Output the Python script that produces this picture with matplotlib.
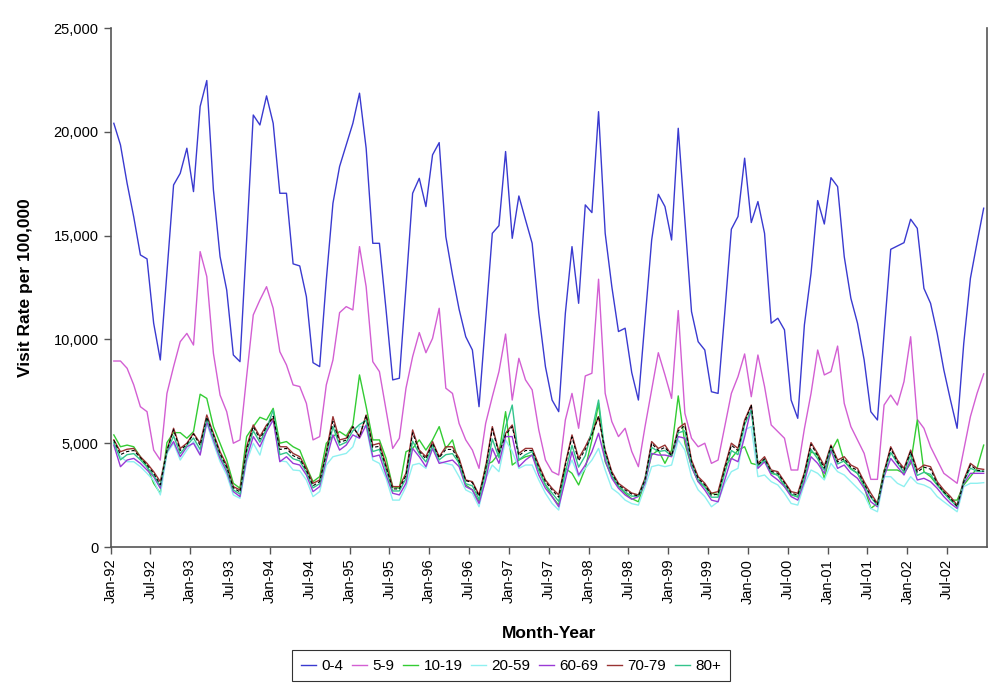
import matplotlib
matplotlib.use('Agg')
import matplotlib.pyplot as plt
from matplotlib.ticker import FuncFormatter

plt.rcParams['font.family'] = ['Liberation Sans', 'DejaVu Sans']

# month labels Jan-92 .. Dec-02
years = ['92', '93', '94', '95', '96', '97', '98', '99', '00', '01', '02']
months = ['Jan', 'Feb', 'Mar', 'Apr', 'May', 'Jun', 'Jul', 'Aug', 'Sep', 'Oct', 'Nov', 'Dec']
labels = [f'{m}-{y}' for y in years for m in months]

# visit rates per 100,000 by age group (one row per year)
age_0_4 = [
    20410, 19370, 17520, 15900, 14070, 13880, 10780, 9010, 13190, 17440, 18000, 19210,
    17120, 21220, 22470, 17200, 13990, 12380, 9250, 8930, 14790, 20810, 20330, 21730,
    20410, 17040, 17040, 13640, 13540, 12060, 8880, 8690, 12860, 16560, 18330, 19370,
    20410, 21860, 19210, 14630, 14630, 11420, 8050, 8130, 12540, 17040, 17760, 16400,
    18890, 19480, 14950, 13110, 11450, 10130, 9490, 6760, 10940, 15110, 15480, 19050,
    14870, 16910, 15760, 14630, 11260, 8690, 7080, 6520, 11260, 14470, 11740, 16480,
    16110, 20970, 15110, 12540, 10380, 10540, 8400, 7080, 10940, 14790, 16990, 16400,
    14790, 20170, 15760, 11340, 9890, 9490, 7480, 7400, 11260, 15310, 15920, 18730,
    15630, 16640, 15110, 10780, 11020, 10460, 7080, 6200, 10700, 13190, 16690, 15560,
    17790, 17360, 13990, 11980, 10780, 9010, 6520, 6120, 10290, 14340, 14500, 14660,
    15790, 15350, 12460, 11740, 10290, 8530, 7080, 5720, 9810, 12940, 14660, 16320,
]
age_5_9 = [
    8960, 8960, 8610, 7810, 6760, 6520, 4670, 4190, 7400, 8690, 9890, 10290,
    9730, 14230, 13030, 9330, 7320, 6520, 5000, 5160, 8210, 11180, 11900, 12540,
    11500, 9410, 8770, 7810, 7730, 6920, 5160, 5320, 7810, 9010, 11290, 11580,
    11420, 14470, 12540, 8930, 8450, 6600, 4750, 5240, 7650, 9170, 10330, 9360,
    10050, 11500, 7650, 7400, 5950, 5160, 4670, 3790, 5960, 7240, 8450, 10260,
    7080, 9090, 8050, 7570, 5640, 4190, 3630, 3470, 6120, 7400, 5720, 8240,
    8370, 12900, 7400, 6040, 5320, 5720, 4600, 3870, 5800, 7570, 9360, 8290,
    7160, 11390, 6440, 5240, 4830, 5000, 4030, 4190, 5800, 7400, 8210, 9300,
    7240, 9250, 7730, 5880, 5560, 5240, 3710, 3710, 5700, 7400, 9490, 8290,
    8450, 9680, 6920, 5800, 5160, 4510, 3260, 3260, 6840, 7320, 6840, 7970,
    10130, 6150, 5720, 4830, 4190, 3550, 3310, 3070, 4670, 6280, 7400, 8340,
]
age_10_19 = [
    5400, 4830, 4910, 4830, 4350, 3870, 3070, 2590, 5030, 5510, 5510, 5240,
    5560, 7360, 7160, 5800, 5000, 4190, 3070, 2830, 5320, 5800, 6250, 6120,
    6680, 5000, 5080, 4830, 4670, 3870, 3150, 3390, 5000, 5320, 5560, 5350,
    5880, 8290, 6760, 5160, 5160, 4270, 2910, 2830, 4590, 4750, 5160, 4670,
    5160, 5800, 4750, 5160, 3990, 2990, 2750, 2180, 3950, 4110, 4510, 6520,
    3950, 4190, 4350, 4430, 3710, 2990, 2430, 2020, 3790, 3550, 2990, 3790,
    5160, 6920, 4110, 3390, 2910, 2590, 2330, 2180, 3150, 4430, 4670, 4030,
    4670, 7280, 5000, 3870, 3150, 2910, 2590, 2510, 3870, 4270, 4670, 4830,
    4030, 3950, 4190, 3550, 3470, 2910, 2510, 2430, 3350, 4590, 4430, 3310,
    4590, 5190, 4110, 3790, 3550, 2910, 1860, 2100, 3710, 3710, 3710, 3550,
    4030, 6120, 3630, 3390, 2990, 2670, 2260, 2260, 2990, 3390, 3790, 4910,
]
age_20_59 = [
    4990, 4350, 4110, 4110, 3870, 3550, 3200, 2510, 4510, 5000, 4190, 4670,
    5080, 4510, 5960, 5000, 4110, 3470, 2510, 2350, 4110, 5000, 4430, 5640,
    6200, 4150, 4110, 3710, 3680, 3230, 2430, 2670, 3950, 4350, 4430, 4510,
    4830, 5800, 5800, 4190, 4030, 3310, 2260, 2260, 2910, 3950, 4030, 3790,
    4750, 4110, 4030, 3950, 3390, 2750, 2590, 1940, 3310, 3950, 3630, 5160,
    4590, 3790, 3950, 3950, 3230, 2590, 2100, 1780, 3470, 4190, 3390, 3790,
    4190, 4750, 3710, 2830, 2590, 2260, 2090, 2020, 2910, 3870, 3950, 3870,
    3950, 5160, 4670, 3390, 2750, 2430, 1940, 2180, 3070, 3630, 3790, 5640,
    5800, 3390, 3470, 3150, 2990, 2590, 2100, 2020, 3030, 3710, 3550, 3230,
    4030, 3630, 3470, 3150, 2830, 2510, 1860, 1700, 3390, 3390, 3070, 2910,
    3390, 3070, 2990, 2830, 2430, 2180, 1940, 1700, 2910, 3070, 3070, 3100,
]
age_60_69 = [
    4910, 3870, 4190, 4270, 4030, 3710, 3390, 2830, 4590, 5080, 4350, 4830,
    5000, 4430, 6040, 5160, 4270, 3630, 2670, 2430, 4270, 5320, 4830, 5560,
    6120, 4110, 4350, 4030, 3950, 3470, 2670, 2910, 4190, 5400, 4670, 4910,
    5400, 5240, 5880, 4350, 4430, 3470, 2590, 2510, 3070, 4750, 4350, 3870,
    4750, 4030, 4110, 4190, 3870, 2910, 2750, 2100, 3230, 4750, 4030, 5320,
    5320, 3870, 4190, 4430, 3470, 2830, 2430, 1940, 3230, 4590, 3470, 3950,
    4590, 5480, 4190, 3310, 2830, 2510, 2300, 2430, 3070, 4510, 4430, 4430,
    4350, 5320, 5240, 3870, 3150, 2750, 2260, 2180, 3230, 4270, 4110, 5320,
    6680, 3790, 4110, 3470, 3230, 2910, 2430, 2260, 3150, 4350, 4030, 3550,
    4670, 3790, 3950, 3550, 3310, 2830, 2180, 1940, 3390, 4270, 3870, 3470,
    4190, 3230, 3310, 3150, 2830, 2430, 2100, 1860, 3070, 3550, 3550, 3550,
]
age_70_79 = [
    5160, 4590, 4710, 4750, 4350, 4030, 3630, 3150, 4670, 5720, 4750, 5000,
    5480, 5000, 6360, 5480, 4590, 3950, 2910, 2750, 4830, 5880, 5320, 5880,
    6200, 4830, 4830, 4510, 4350, 3790, 3070, 3230, 4590, 6280, 5160, 5240,
    5800, 5320, 6360, 4910, 5000, 3950, 2910, 2910, 3550, 5640, 4670, 4350,
    5080, 4350, 4830, 4830, 4270, 3230, 3150, 2510, 3870, 5800, 4590, 5480,
    5880, 4510, 4750, 4750, 3950, 3230, 2830, 2510, 4030, 5400, 4270, 4830,
    5480, 6280, 4670, 3630, 3070, 2830, 2600, 2510, 3310, 5080, 4750, 4910,
    4430, 5720, 5960, 4190, 3390, 3070, 2590, 2670, 3870, 5000, 4750, 6120,
    6840, 4030, 4350, 3710, 3630, 3150, 2670, 2590, 3590, 5030, 4510, 3900,
    4910, 4190, 4350, 3950, 3790, 3150, 2590, 2100, 3630, 4830, 4190, 3790,
    4670, 3710, 3950, 3870, 3150, 2750, 2430, 2020, 3230, 4030, 3790, 3740,
]
age_80_plus = [
    5050, 4200, 4450, 4500, 4200, 3850, 3450, 2950, 4600, 5350, 4500, 4900,
    5250, 4700, 6200, 5300, 4400, 3750, 2750, 2550, 4550, 5600, 5050, 5700,
    6600, 4450, 4550, 4250, 4150, 3600, 2850, 3050, 4400, 5800, 4900, 5050,
    5600, 5900, 6100, 4600, 4700, 3700, 2700, 2700, 3300, 5100, 4500, 4100,
    4900, 4200, 4450, 4500, 4050, 3050, 2950, 2300, 3550, 5200, 4300, 5800,
    6840, 4200, 4450, 4600, 3700, 3000, 2600, 2200, 3600, 4900, 3850, 4400,
    5600, 7080, 4450, 3450, 2950, 2650, 2450, 2450, 3200, 4800, 4600, 4650,
    4400, 5500, 5600, 4000, 3250, 2900, 2400, 2400, 3550, 4650, 4450, 5900,
    6600, 3900, 4200, 3600, 3450, 3000, 2550, 2400, 3350, 4700, 4250, 3700,
    4800, 4000, 4150, 3750, 3550, 3000, 2400, 2000, 3500, 4550, 4050, 3600,
    4450, 3450, 3600, 3500, 3000, 2600, 2250, 1950, 3150, 3800, 3650, 3650,
]
# dashed black series (not in legend)
all_ages = [
    5150, 4450, 4600, 4650, 4300, 3950, 3550, 3000, 4650, 5650, 4650, 4950,
    5450, 4900, 6250, 5400, 4500, 3850, 2850, 2650, 4700, 5800, 5200, 5800,
    6300, 4700, 4750, 4400, 4250, 3700, 2950, 3150, 4500, 6050, 5050, 5150,
    5800, 5300, 6350, 4800, 4850, 3850, 2800, 2800, 3450, 5500, 4600, 4250,
    5000, 4300, 4700, 4700, 4150, 3200, 3100, 2450, 3750, 5700, 4500, 5400,
    5800, 4400, 4650, 4650, 3850, 3150, 2750, 2400, 3950, 5300, 4150, 4700,
    5400, 6300, 4600, 3550, 3000, 2750, 2550, 2450, 3250, 5000, 4650, 4800,
    4400, 5600, 5850, 4100, 3300, 3000, 2500, 2550, 3750, 4900, 4650, 6000,
    6850, 3950, 4250, 3650, 3550, 3100, 2600, 2500, 3500, 4950, 4400, 3800,
    4850, 4100, 4250, 3850, 3700, 3050, 2450, 2050, 3550, 4750, 4100, 3700,
    4600, 3600, 3850, 3750, 3050, 2650, 2350, 1950, 3150, 3950, 3700, 3650,
]

series = [
    ('0-4', age_0_4, '#3a3ad0'),
    ('5-9', age_5_9, '#d35fd3'),
    ('10-19', age_10_19, '#33cc33'),
    ('20-59', age_20_59, '#8ff0f0'),
    ('60-69', age_60_69, '#9a3ad6'),
    ('70-79', age_70_79, '#993333'),
    ('80+', age_80_plus, '#33c48c'),
]

x = list(range(len(labels)))

fig = plt.figure(figsize=(10, 6.9), dpi=100)
ax = fig.add_axes([0.1105, 0.2072, 0.8765, 0.7522])

for name, vals, col in series:
    ax.plot(x, vals, color=col, linewidth=1.0, label=name)
ax.plot(x, all_ages, color='black', linewidth=0.8, linestyle=(0, (3, 2)))

ax.set_xlim(-0.5, len(labels) - 0.5)
ax.set_ylim(0, 25000)
ax.set_yticks(range(0, 25001, 5000))
ax.yaxis.set_major_formatter(FuncFormatter(lambda v, p: f'{int(v):,}'))

tick_pos = [i - 0.5 for i in range(0, len(labels), 6)]
ax.set_xticks(tick_pos)
ax.set_xticklabels(labels[::6], rotation=90)
ax.tick_params(axis='both', direction='out', length=5, width=1, colors='#555555',
               labelcolor='black', labelsize=10.5)

for side in ['left', 'bottom', 'right']:
    ax.spines[side].set_color('#555555')
    ax.spines[side].set_linewidth(1.2)
ax.spines['top'].set_visible(False)

ax.set_ylabel('Visit Rate per 100,000', fontsize=12.5, fontweight='bold', labelpad=15)
ax.set_xlabel('Month-Year', fontsize=12.5, fontweight='bold', labelpad=16)

leg = fig.legend(loc='center', bbox_to_anchor=(0.511, 0.035), ncol=7, frameon=True,
                 fancybox=False, edgecolor='black', fontsize=11, handlelength=1.0,
                 handletextpad=0.35, columnspacing=0.55, borderpad=0.55)
leg.get_frame().set_linewidth(0.8)

fig.savefig('out.png', dpi=100)
